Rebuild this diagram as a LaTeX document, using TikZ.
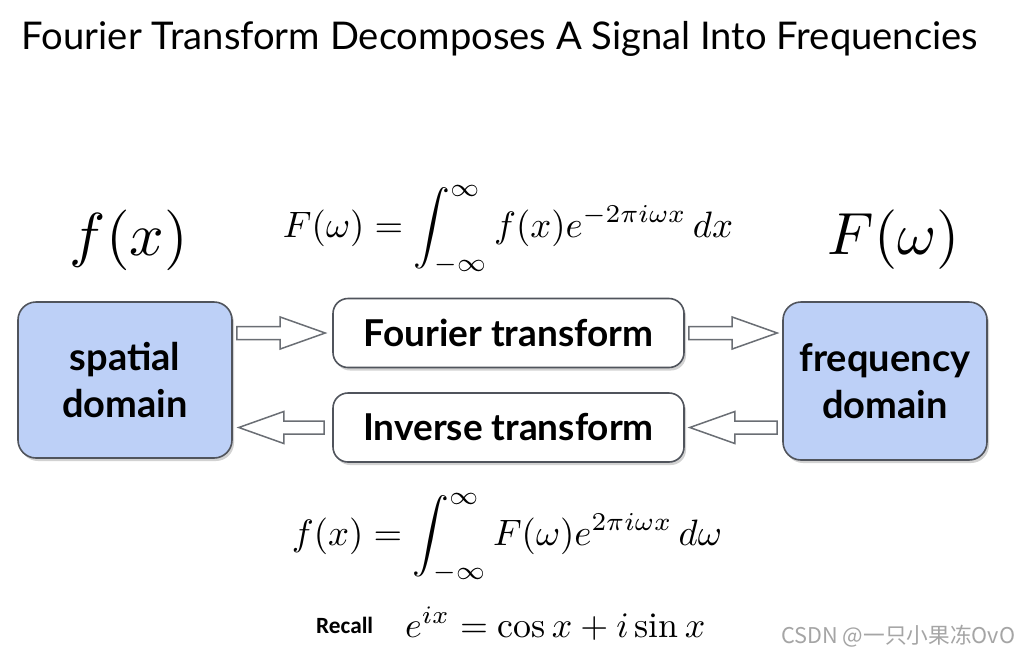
\documentclass[tikz,border=0pt]{standalone}
\usepackage{fontspec}
\usepackage{amsmath}
\setsansfont{Lato}
\newfontfamily\latofont{Lato}
\newfontfamily\recallfont{Carlito}
\newfontfamily\cjkfont{Noto Sans CJK SC}
\usetikzlibrary{calc,shadows}
\definecolor{boxblue}{RGB}{189,208,247}
\definecolor{boxline}{RGB}{80,84,92}
\definecolor{wmgray}{RGB}{165,165,165}
\tikzset{
  domainbox/.style={draw=boxline, line width=1.6pt, fill=boxblue, rounded corners=18pt,
    inner sep=0pt, align=center, font=\latofont\bfseries\fontsize{38}{47}\selectfont,
    drop shadow={opacity=0.35, shadow xshift=2pt, shadow yshift=-3pt}},
  opbox/.style={draw=boxline, line width=1.6pt, fill=white, rounded corners=15pt,
    inner sep=0pt, minimum width=351pt, minimum height=69pt,
    font=\latofont\bfseries\fontsize{37}{40}\selectfont,
    drop shadow={opacity=0.35, shadow xshift=2pt, shadow yshift=-3pt}},
  blockarr/.style={draw=boxline!85, line width=1.5pt, fill=white, line join=miter},
  mathtext/.style={inner sep=0pt}
}
\newcommand\blockarrow[2]{%
  \draw[blockarr] let \p1=(#1), \p2=(#2), \n1={(\x2>\x1)?45:-45} in
    (\x1,\y1+6.5pt) -- (\x2-\n1*1pt,\y1+6.5pt) -- (\x2-\n1*1pt,\y1+16pt) --
    (\x2,\y1) -- (\x2-\n1*1pt,\y1-16pt) -- (\x2-\n1*1pt,\y1-6.5pt) --
    (\x1,\y1-6.5pt) -- cycle;}
\begin{document}
\begin{tikzpicture}[x=1pt,y=-1pt]
\useasboundingbox[fill=white] (0,0) rectangle (1019,654);

% title
\node[inner sep=0pt, anchor=base] (title) at (500,49)
  {\resizebox{956pt}{!}{\latofont Fourier Transform Decomposes A Signal Into Frequencies}};

% big symbols
\node[mathtext] (fx) at (129,240) {\resizebox{118pt}{!}{$f(x)$}};
\node[mathtext] (Fw) at (894,240) {\resizebox{132pt}{!}{$F(\omega)$}};

% formulas
\node[mathtext] (fwd) at (508,230)
  {\resizebox{450pt}{!}{$\displaystyle F(\omega)=\int_{-\infty}^{\infty} f(x)e^{-2\pi i\omega x}\,dx$}};
\node[mathtext] (inv) at (507,538)
  {\resizebox{430pt}{!}{$\displaystyle f(x)=\int_{-\infty}^{\infty} F(\omega)e^{2\pi i\omega x}\,d\omega$}};

% boxes
\node[domainbox, minimum width=214pt, minimum height=156pt] (sp) at (125,380)
  {spatial\\domain};
\node[domainbox, minimum width=204pt, minimum height=158pt] (fd) at (885,381)
  {frequency\\domain};
\node[opbox] (ft) at (508.5,333) {Fourier transform};
\node[opbox] (it) at (508.5,427.5) {Inverse transform};

% arrows
\coordinate (a1s) at ($(sp.east |- ft.west)+(4,0)$);
\coordinate (a1e) at ($(ft.west)+(-7,0)$);
\coordinate (a2s) at ($(ft.east)+(4,0)$);
\coordinate (a2e) at ($(fd.west |- ft.east)+(-5,0)$);
\coordinate (a3s) at ($(it.west)+(-8,0)$);
\coordinate (a3e) at ($(sp.east |- it.west)+(6,0)$);
\coordinate (a4s) at ($(fd.west |- it.east)+(-5,0)$);
\coordinate (a4e) at ($(it.east)+(5,0)$);
\blockarrow{a1s}{a1e}
\blockarrow{a2s}{a2e}
\blockarrow{a3s}{a3e}
\blockarrow{a4s}{a4e}

% recall
\node[inner sep=0pt, anchor=base west] (recall) at (316,633)
  {\resizebox{57pt}{!}{\recallfont\bfseries Recall}};
\node[inner sep=0pt, anchor=base west] (euler) at (405,637)
  {\resizebox{300pt}{!}{$e^{ix}=\cos x+i\sin x$}};

% watermark
\node[inner sep=0pt, anchor=base west, text=wmgray] (wm) at (781,643)
  {\resizebox{234pt}{!}{\cjkfont CSDN @一只小果冻OvO}};
\end{tikzpicture}
\end{document}
